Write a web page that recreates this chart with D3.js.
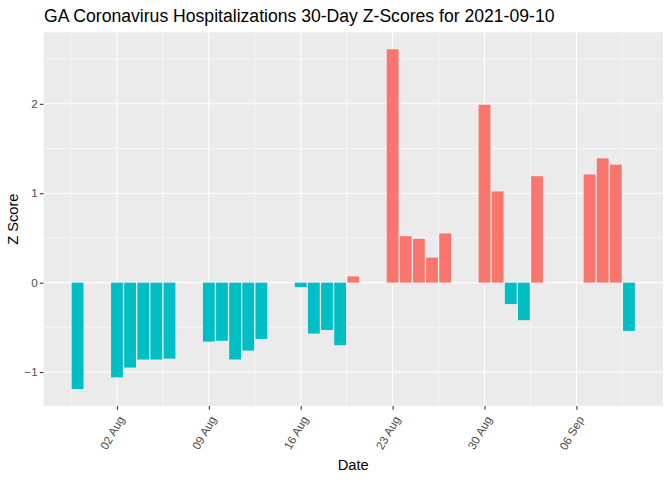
<!DOCTYPE html>
<html>
<head>
<meta charset="utf-8">
<script src="https://cdn.jsdelivr.net/npm/d3@7"></script>
<style>
  html, body { margin: 0; padding: 0; background: #fff; }
  svg { display: block; font-family: "Liberation Sans", Arial, sans-serif; }
</style>
</head>
<body>
<svg id="chart" width="672" height="480"></svg>
<script>
const dates = [
  "2021-07-30",
  "2021-08-02","2021-08-03","2021-08-04","2021-08-05","2021-08-06",
  "2021-08-09","2021-08-10","2021-08-11","2021-08-12","2021-08-13",
  "2021-08-16","2021-08-17","2021-08-18","2021-08-19","2021-08-20",
  "2021-08-23","2021-08-24","2021-08-25","2021-08-26","2021-08-27",
  "2021-08-30","2021-08-31","2021-09-01","2021-09-02","2021-09-03",
  "2021-09-07","2021-09-08","2021-09-09","2021-09-10"
];
const zScores = [
  -1.19,
  -1.06, -0.95, -0.86, -0.86, -0.85,
  -0.66, -0.65, -0.86, -0.76, -0.63,
  -0.05, -0.57, -0.53, -0.70, 0.07,
  2.61, 0.52, 0.49, 0.28, 0.55,
  1.99, 1.02, -0.24, -0.42, 1.19,
  1.21, 1.39, 1.32, -0.54
];
const yTicks = [-1, 0, 1, 2];
const xTickDates = ["2021-08-02","2021-08-09","2021-08-16","2021-08-23","2021-08-30","2021-09-06"];
const titleText = "GA Coronavirus Hospitalizations 30-Day Z-Scores for 2021-09-10";
const xLabel = "Date";
const yLabel = "Z Score";

const parse = d3.utcParse("%Y-%m-%d");
const data = dates.map((d, i) => ({ date: parse(d), z: zScores[i], sign: zScores[i] >= 0 ? "pos" : "neg" }));

const svg = d3.select("#chart");
const panel = { left: 43.5, right: 663, top: 32.3, bottom: 406 };
const DAY = 86400000;
const barW = 0.9;

// x domain like ggplot: bar extents + 5% expansion
const minT = d3.min(data, d => +d.date) - barW / 2 * DAY;
const maxT = d3.max(data, d => +d.date) + barW / 2 * DAY;
const spanT = maxT - minT;
const x = d3.scaleUtc()
  .domain([new Date(minT - 0.05 * spanT), new Date(maxT + 0.05 * spanT)])
  .range([panel.left, panel.right]);

const minZ = Math.min(0, d3.min(zScores));
const maxZ = Math.max(0, d3.max(zScores));
const spanZ = maxZ - minZ;
const y = d3.scaleLinear()
  .domain([minZ - 0.05 * spanZ, maxZ + 0.05 * spanZ])
  .range([panel.bottom, panel.top]);

const color = d3.scaleOrdinal().domain(["pos", "neg"]).range(["#F8766D", "#00BFC4"]);

// panel background
svg.append("rect")
  .attr("x", panel.left).attr("y", panel.top)
  .attr("width", panel.right - panel.left).attr("height", panel.bottom - panel.top)
  .attr("fill", "#EBEBEB");

const grid = svg.append("g");
// minor y grid
const yDom = y.domain();
const yMinor = [];
for (let v = Math.ceil(yDom[0] * 2) / 2; v <= yDom[1]; v += 0.5) {
  if (Math.abs(v - Math.round(v)) > 1e-9) yMinor.push(v);
}
grid.selectAll(".ymin").data(yMinor).join("line")
  .attr("x1", panel.left).attr("x2", panel.right)
  .attr("y1", d => y(d)).attr("y2", d => y(d))
  .attr("stroke", "#fff").attr("stroke-width", 0.55);

// minor x grid (midpoints between weekly breaks)
const xMajor = xTickDates.map(parse);
const xMinor = [];
const firstMinor = +xMajor[0] - 3.5 * DAY;
for (let t = firstMinor; t <= +x.domain()[1]; t += 7 * DAY) {
  if (t >= +x.domain()[0]) xMinor.push(new Date(t));
}
grid.selectAll(".xmin").data(xMinor).join("line")
  .attr("y1", panel.top).attr("y2", panel.bottom)
  .attr("x1", d => x(d)).attr("x2", d => x(d))
  .attr("stroke", "#fff").attr("stroke-width", 0.55);

// major grid
grid.selectAll(".ymaj").data(yTicks).join("line")
  .attr("x1", panel.left).attr("x2", panel.right)
  .attr("y1", d => y(d)).attr("y2", d => y(d))
  .attr("stroke", "#fff").attr("stroke-width", 1.07);
grid.selectAll(".xmaj").data(xMajor).join("line")
  .attr("y1", panel.top).attr("y2", panel.bottom)
  .attr("x1", d => x(d)).attr("x2", d => x(d))
  .attr("stroke", "#fff").attr("stroke-width", 1.07);

// bars
const pxDay = x(new Date(DAY * 1)) - x(new Date(0));
svg.append("g").selectAll("rect").data(data).join("rect")
  .attr("x", d => x(new Date(+d.date - barW / 2 * DAY)))
  .attr("width", barW * pxDay)
  .attr("y", d => y(Math.max(0, d.z)))
  .attr("height", d => Math.abs(y(d.z) - y(0)))
  .attr("fill", d => color(d.sign));

// y axis
const yAxis = d3.axisLeft(y).tickValues(yTicks).tickSize(3.67).tickPadding(2.2).tickFormat(d3.format("d"));
const gy = svg.append("g").attr("transform", `translate(${panel.left},0)`).call(yAxis);
gy.select(".domain").remove();
gy.selectAll(".tick line").attr("stroke", "#333333").attr("stroke-width", 1.07);
gy.selectAll(".tick text").attr("fill", "#4D4D4D").attr("font-size", "11.7px")
  .attr("font-family", "'Liberation Sans', Arial, sans-serif");

// x axis
const xAxis = d3.axisBottom(x).tickValues(xMajor).tickSize(3.67).tickFormat(d3.utcFormat("%d %b"));
const gx = svg.append("g").attr("transform", `translate(0,${panel.bottom})`).call(xAxis);
gx.select(".domain").remove();
gx.selectAll(".tick line").attr("stroke", "#333333").attr("stroke-width", 1.07);
gx.selectAll(".tick text")
  .attr("fill", "#4D4D4D").attr("font-size", "11.7px")
  .attr("font-family", "'Liberation Sans', Arial, sans-serif")
  .attr("text-anchor", "end")
  .attr("y", 0).attr("dy", 0)
  .attr("transform", "translate(7.5,13) rotate(-60)");

// titles
svg.append("text").attr("x", 44).attr("y", 22)
  .attr("font-size", "17.6px").attr("fill", "#000").text(titleText);
svg.append("text").attr("x", (panel.left + panel.right) / 2).attr("y", 469.7)
  .attr("text-anchor", "middle").attr("font-size", "14.67px").attr("fill", "#000").text(xLabel);
svg.append("text")
  .attr("transform", `translate(17.6,${(panel.top + panel.bottom) / 2}) rotate(-90)`)
  .attr("text-anchor", "middle").attr("font-size", "14.67px").attr("fill", "#000").text(yLabel);
</script>
</body>
</html>
